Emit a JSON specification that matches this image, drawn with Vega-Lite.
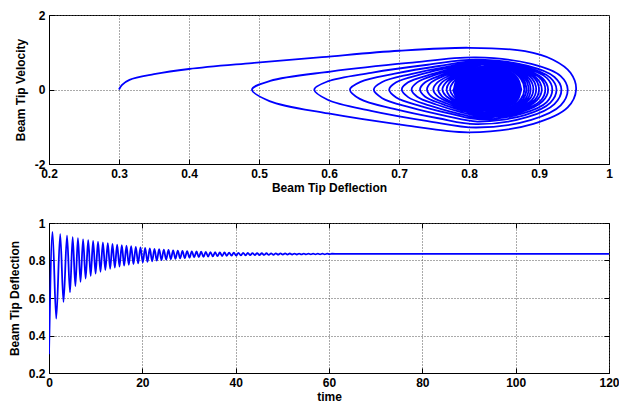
{
  "$schema": "https://vega.github.io/schema/vega-lite/v6.json",
  "background": "white",
  "padding": {"left": 7, "top": 8, "right": 0, "bottom": 0},
  "spacing": 22,
  "config": {
    "view": {"stroke": "#000", "strokeWidth": 1},
    "axis": {
      "labelFont": "Liberation Sans", "labelFontWeight": "bold", "labelFontSize": 12, "labelColor": "#000",
      "titleFont": "Liberation Sans", "titleFontWeight": "bold", "titleFontSize": 12, "titleColor": "#000",
      "domainColor": "#000", "tickColor": "#000", "tickSize": -5, "labelPadding": 9,
      "labelFlush": false, "labelOverlap": false,
      "gridColor": "#555", "gridDash": [1, 2], "gridWidth": 1, "gridOpacity": 1
    },
    "axisX": {"titlePadding": 3},
    "axisY": {"titlePadding": 7}
  },
  "datasets": {
    "phase": [
      {"d":0.300,"v":0},{"d":0.304,"v":0.12},{"d":0.315,"v":0.26},{"d":0.35,"v":0.41},{"d":0.40,"v":0.55},{"d":0.49,"v":0.71},{"d":0.59,"v":0.87},{"d":0.70,"v":1.04},{"d":0.80,"v":1.12},{"d":0.88,"v":1.03},{"d":0.92,"v":0.80},{"d":0.945,"v":0.45},{"d":0.953,"v":0},
      {"d":0.941,"v":-0.48},{"d":0.892,"v":-0.92},{"d":0.80,"v":-1.15},{"d":0.707,"v":-0.955},{"d":0.599,"v":-0.644},{"d":0.515,"v":-0.31},{"d":0.49,"v":0},
      {"d":0.516,"v":0.232},{"d":0.602,"v":0.482},{"d":0.714,"v":0.714},{"d":0.81,"v":0.86},{"d":0.889,"v":0.688},{"d":0.931,"v":0.361},{"d":0.941,"v":0},
      {"d":0.931,"v":-0.428},{"d":0.889,"v":-0.816},{"d":0.81,"v":-1.02},{"d":0.741,"v":-0.847},{"d":0.66,"v":-0.571},{"d":0.598,"v":-0.275},{"d":0.579,"v":0},
      {"d":0.598,"v":0.216},{"d":0.66,"v":0.448},{"d":0.741,"v":0.664},{"d":0.81,"v":0.80},{"d":0.883,"v":0.64},{"d":0.922,"v":0.336},{"d":0.932,"v":0},
      {"d":0.922,"v":-0.391},{"d":0.883,"v":-0.744},{"d":0.81,"v":-0.93},{"d":0.756,"v":-0.772},{"d":0.693,"v":-0.521},{"d":0.644,"v":-0.251},{"d":0.63,"v":0},
      {"d":0.645,"v":0.205},{"d":0.694,"v":0.426},{"d":0.757,"v":0.631},{"d":0.812,"v":0.76},{"d":0.88,"v":0.608},{"d":0.916,"v":0.319},{"d":0.925,"v":0},
      {"d":0.916,"v":-0.361},{"d":0.88,"v":-0.688},{"d":0.812,"v":-0.86},{"d":0.768,"v":-0.714},{"d":0.716,"v":-0.482},{"d":0.676,"v":-0.232},{"d":0.664,"v":0},
      {"d":0.676,"v":0.2},{"d":0.717,"v":0.414},{"d":0.77,"v":0.614},{"d":0.815,"v":0.74},{"d":0.877,"v":0.592},{"d":0.911,"v":0.311},{"d":0.919,"v":0},
      {"d":0.911,"v":-0.336},{"d":0.877,"v":-0.64},{"d":0.815,"v":-0.8},{"d":0.776,"v":-0.664},{"d":0.731,"v":-0.448},{"d":0.696,"v":-0.216},{"d":0.686,"v":0},
      {"d":0.696,"v":0.194},{"d":0.731,"v":0.403},{"d":0.776,"v":0.598},{"d":0.815,"v":0.72},{"d":0.874,"v":0.576},{"d":0.905,"v":0.302},{"d":0.913,"v":0},
      {"d":0.905,"v":-0.319},{"d":0.874,"v":-0.608},{"d":0.815,"v":-0.76},{"d":0.782,"v":-0.631},{"d":0.743,"v":-0.426},{"d":0.713,"v":-0.205},{"d":0.704,"v":0},
      {"d":0.713,"v":0.192},{"d":0.744,"v":0.398},{"d":0.783,"v":0.589},{"d":0.817,"v":0.71},{"d":0.872,"v":0.568},{"d":0.902,"v":0.298},{"d":0.909,"v":0},
      {"d":0.902,"v":-0.302},{"d":0.872,"v":-0.576},{"d":0.817,"v":-0.72},{"d":0.787,"v":-0.598},{"d":0.753,"v":-0.403},{"d":0.726,"v":-0.194},{"d":0.718,"v":0},
      {"d":0.726,"v":0.192},{"d":0.753,"v":0.398},{"d":0.788,"v":0.589},{"d":0.818,"v":0.71},{"d":0.87,"v":0.568},{"d":0.897,"v":0.298},{"d":0.904,"v":0},
      {"d":0.897,"v":-0.29},{"d":0.87,"v":-0.552},{"d":0.818,"v":-0.69},{"d":0.792,"v":-0.573},{"d":0.761,"v":-0.386},{"d":0.737,"v":-0.186},{"d":0.73,"v":0},
      {"d":0.737,"v":0.189},{"d":0.761,"v":0.392},{"d":0.792,"v":0.581},{"d":0.819,"v":0.7},{"d":0.868,"v":0.56},{"d":0.894,"v":0.294},{"d":0.9,"v":0},
      {"d":0.894,"v":-0.281},{"d":0.868,"v":-0.536},{"d":0.819,"v":-0.67},{"d":0.795,"v":-0.556},{"d":0.768,"v":-0.375},{"d":0.746,"v":-0.181},{"d":0.74,"v":0},
      {"d":0.746,"v":0.189},{"d":0.768,"v":0.392},{"d":0.796,"v":0.581},{"d":0.82,"v":0.7},{"d":0.866,"v":0.56},{"d":0.89,"v":0.294},{"d":0.896,"v":0},
      {"d":0.89,"v":-0.277},{"d":0.866,"v":-0.528},{"d":0.82,"v":-0.66},{"d":0.799,"v":-0.548},{"d":0.774,"v":-0.37},{"d":0.755,"v":-0.178},{"d":0.749,"v":0},
      {"d":0.755,"v":0.189},{"d":0.774,"v":0.392},{"d":0.799,"v":0.581},{"d":0.82,"v":0.7},{"d":0.863,"v":0.56},{"d":0.886,"v":0.294},{"d":0.892,"v":0},
      {"d":0.886,"v":-0.273},{"d":0.863,"v":-0.52},{"d":0.82,"v":-0.65},{"d":0.801,"v":-0.54},{"d":0.778,"v":-0.364},{"d":0.761,"v":-0.176},{"d":0.756,"v":0},
      {"d":0.761,"v":0.186},{"d":0.779,"v":0.386},{"d":0.802,"v":0.573},{"d":0.821,"v":0.69},{"d":0.861,"v":0.552},{"d":0.883,"v":0.29},{"d":0.888,"v":0},
      {"d":0.883,"v":-0.269},{"d":0.861,"v":-0.512},{"d":0.821,"v":-0.64},{"d":0.803,"v":-0.531},{"d":0.783,"v":-0.358},{"d":0.767,"v":-0.173},{"d":0.762,"v":0},
      {"d":0.767,"v":0.186},{"d":0.783,"v":0.386},{"d":0.803,"v":0.573},{"d":0.821,"v":0.69},{"d":0.859,"v":0.552},{"d":0.88,"v":0.29},{"d":0.885,"v":0},
      {"d":0.88,"v":-0.265},{"d":0.859,"v":-0.504},{"d":0.821,"v":-0.63},{"d":0.805,"v":-0.523},{"d":0.787,"v":-0.353},{"d":0.772,"v":-0.17},{"d":0.768,"v":0},
      {"d":0.772,"v":0.184},{"d":0.787,"v":0.381},{"d":0.806,"v":0.564},{"d":0.822,"v":0.68},{"d":0.858,"v":0.544},{"d":0.877,"v":0.286},{"d":0.882,"v":0},
      {"d":0.877,"v":-0.26},{"d":0.858,"v":-0.496},{"d":0.822,"v":-0.62},{"d":0.807,"v":-0.515},{"d":0.79,"v":-0.347},{"d":0.777,"v":-0.167},{"d":0.773,"v":0},
      {"d":0.777,"v":0.184},{"d":0.79,"v":0.381},{"d":0.807,"v":0.564},{"d":0.822,"v":0.68},{"d":0.856,"v":0.544},{"d":0.874,"v":0.286},{"d":0.879,"v":0},
      {"d":0.874,"v":-0.256},{"d":0.856,"v":-0.488},{"d":0.822,"v":-0.61},{"d":0.809,"v":-0.506},{"d":0.793,"v":-0.342},{"d":0.781,"v":-0.165},{"d":0.777,"v":0}
    ],
    "core": [
      {"d":0.777,"top":0,"bot":0},
      {"d":0.780,"top":0.22,"bot":-0.2},
      {"d":0.790,"top":0.4,"bot":-0.36},
      {"d":0.800,"top":0.52,"bot":-0.47},
      {"d":0.810,"top":0.6,"bot":-0.55},
      {"d":0.820,"top":0.65,"bot":-0.59},
      {"d":0.828,"top":0.67,"bot":-0.61},
      {"d":0.840,"top":0.65,"bot":-0.59},
      {"d":0.850,"top":0.59,"bot":-0.54},
      {"d":0.860,"top":0.5,"bot":-0.45},
      {"d":0.868,"top":0.37,"bot":-0.34},
      {"d":0.873,"top":0.22,"bot":-0.2},
      {"d":0.876,"top":0,"bot":0}
    ],
    "ts": [
      {"t":0,"y":0.30},{"t":0.75,"y":0.953},{"t":1.55,"y":0.49},{"t":2.4,"y":0.941},{"t":3.1,"y":0.579},{"t":3.86,"y":0.932},{"t":4.5,"y":0.63},{"t":5.07,"y":0.925},{"t":5.65,"y":0.664},{"t":6.2,"y":0.919},
      {"t":6.75,"y":0.686},{"t":7.3,"y":0.913},{"t":7.85,"y":0.704},{"t":8.4,"y":0.909},{"t":8.93,"y":0.718},{"t":9.45,"y":0.904},{"t":9.98,"y":0.73},{"t":10.5,"y":0.9},{"t":11.03,"y":0.74},{"t":11.55,"y":0.896},
      {"t":12.07,"y":0.749},{"t":12.6,"y":0.892},{"t":13.1,"y":0.756},{"t":13.6,"y":0.888},{"t":14.1,"y":0.762},{"t":14.6,"y":0.885},{"t":15.1,"y":0.768},{"t":15.6,"y":0.882},{"t":16.1,"y":0.773},{"t":16.6,"y":0.879},
      {"t":17.1,"y":0.777},{"t":17.6,"y":0.876},{"t":18.1,"y":0.781},{"t":18.6,"y":0.873},{"t":19.1,"y":0.785},{"t":19.6,"y":0.87},
      {"t":20.1,"y":0.789},{"t":20.6,"y":0.867},{"t":21.1,"y":0.793},{"t":21.6,"y":0.864},{"t":22.1,"y":0.796},{"t":22.6,"y":0.862},{"t":23.1,"y":0.799},{"t":23.6,"y":0.86},{"t":24.1,"y":0.802},{"t":24.6,"y":0.858},
      {"t":25.1,"y":0.805},{"t":25.6,"y":0.856},{"t":26.1,"y":0.807},{"t":26.6,"y":0.854},{"t":27.1,"y":0.809},{"t":27.6,"y":0.853},{"t":28.1,"y":0.811},{"t":28.6,"y":0.851},{"t":29.1,"y":0.813},{"t":29.6,"y":0.85},
      {"t":30.1,"y":0.815},{"t":30.6,"y":0.849},{"t":31.1,"y":0.817},{"t":31.6,"y":0.848},{"t":32.1,"y":0.818},{"t":32.6,"y":0.847},{"t":33.1,"y":0.819},{"t":33.6,"y":0.846},{"t":34.1,"y":0.821},{"t":34.6,"y":0.845},
      {"t":35.1,"y":0.822},{"t":35.6,"y":0.844},{"t":36.1,"y":0.823},{"t":36.6,"y":0.843},{"t":37.1,"y":0.824},{"t":37.6,"y":0.8427},{"t":38.1,"y":0.8248},{"t":38.6,"y":0.8421},{"t":39.1,"y":0.8256},{"t":39.6,"y":0.8415},
      {"t":40.1,"y":0.8263},{"t":40.6,"y":0.841},{"t":41.1,"y":0.827},{"t":41.6,"y":0.8405},{"t":42.1,"y":0.8277},{"t":42.6,"y":0.8401},{"t":43.1,"y":0.8282},{"t":43.6,"y":0.8397},{"t":44.1,"y":0.8288},{"t":44.6,"y":0.8393},
      {"t":45.1,"y":0.8293},{"t":45.6,"y":0.839},{"t":46.1,"y":0.8297},{"t":46.6,"y":0.8386},{"t":47.1,"y":0.8302},{"t":47.6,"y":0.8383},{"t":48.1,"y":0.8306},{"t":48.6,"y":0.8381},{"t":49.1,"y":0.8309},{"t":49.6,"y":0.8378},
      {"t":50.1,"y":0.8312},{"t":50.6,"y":0.8376},{"t":51.1,"y":0.8315},{"t":51.6,"y":0.8374},{"t":52.1,"y":0.8318},{"t":52.6,"y":0.8372},{"t":53.1,"y":0.8321},{"t":53.6,"y":0.837},{"t":54.1,"y":0.8323},{"t":54.6,"y":0.8369},
      {"t":55.1,"y":0.8325},{"t":55.6,"y":0.8367},{"t":56.1,"y":0.8327},{"t":56.6,"y":0.8366},{"t":57.1,"y":0.8329},{"t":57.6,"y":0.8365},{"t":58.1,"y":0.8331},{"t":58.6,"y":0.8363},{"t":59.1,"y":0.8332},{"t":59.6,"y":0.8362},
      {"t":60.1,"y":0.8334},{"t":60.6,"y":0.8361},{"t":62,"y":0.835},{"t":120,"y":0.835}
    ]
  },
  "vconcat": [
    {
      "width": 560, "height": 149,
      "layer": [
        {
          "data": {"name": "core"},
          "mark": {"type": "area", "color": "#0000ff", "opacity": 1, "interpolate": "monotone", "clip": true},
          "encoding": {
            "x": {"field": "d", "type": "quantitative", "scale": {"domain": [0.2, 1], "nice": false, "zero": false},
                  "axis": {"title": "Beam Tip Deflection", "values": [0.2, 0.3, 0.4, 0.5, 0.6, 0.7, 0.8, 0.9, 1], "format": "~g"}},
            "y": {"field": "top", "type": "quantitative", "scale": {"domain": [-2, 2], "nice": false, "zero": false},
                  "axis": {"title": "Beam Tip Velocity", "values": [-2, -1, 0, 1, 2], "labelExpr": "datum.value < 0 ? '-' + format(-datum.value, '~g') : format(datum.value, '~g')"}},
            "y2": {"field": "bot"}
          }
        },
        {
          "data": {"name": "phase"},
          "mark": {"type": "line", "stroke": "#0000ff", "strokeWidth": 1.8, "interpolate": "catmull-rom", "clip": true},
          "encoding": {
            "x": {"field": "d", "type": "quantitative"},
            "y": {"field": "v", "type": "quantitative"},
            "order": {"value": null}
          }
        }
      ]
    },
    {
      "width": 560, "height": 150,
      "data": {"name": "ts"},
      "layer": [
        {
          "mark": {"type": "line", "color": "#0000ff", "strokeWidth": 1.8, "interpolate": "monotone", "clip": true},
          "encoding": {
            "x": {"field": "t", "type": "quantitative", "scale": {"domain": [0, 120], "nice": false},
                  "axis": {"orient": "bottom", "title": "time", "values": [0, 20, 40, 60, 80, 100, 120], "format": "d"}},
            "y": {"field": "y", "type": "quantitative", "scale": {"domain": [0.2, 1], "nice": false, "zero": false},
                  "axis": {"orient": "left", "title": "Beam Tip Deflection", "values": [0.2, 0.4, 0.6, 0.8, 1], "format": "~g"}}
          }
        },
        {
          "mark": {"type": "line", "strokeOpacity": 0},
          "encoding": {
            "x": {"field": "t", "type": "quantitative", "axis": {"orient": "top", "title": null, "labels": false, "grid": false, "domain": false, "values": [0, 20, 40, 60, 80, 100, 120]}},
            "y": {"field": "y", "type": "quantitative", "axis": {"orient": "right", "title": null, "labels": false, "grid": false, "domain": false, "values": [0.2, 0.4, 0.6, 0.8, 1]}}
          }
        }
      ],
      "resolve": {"axis": {"x": "independent", "y": "independent"}}
    }
  ]
}
